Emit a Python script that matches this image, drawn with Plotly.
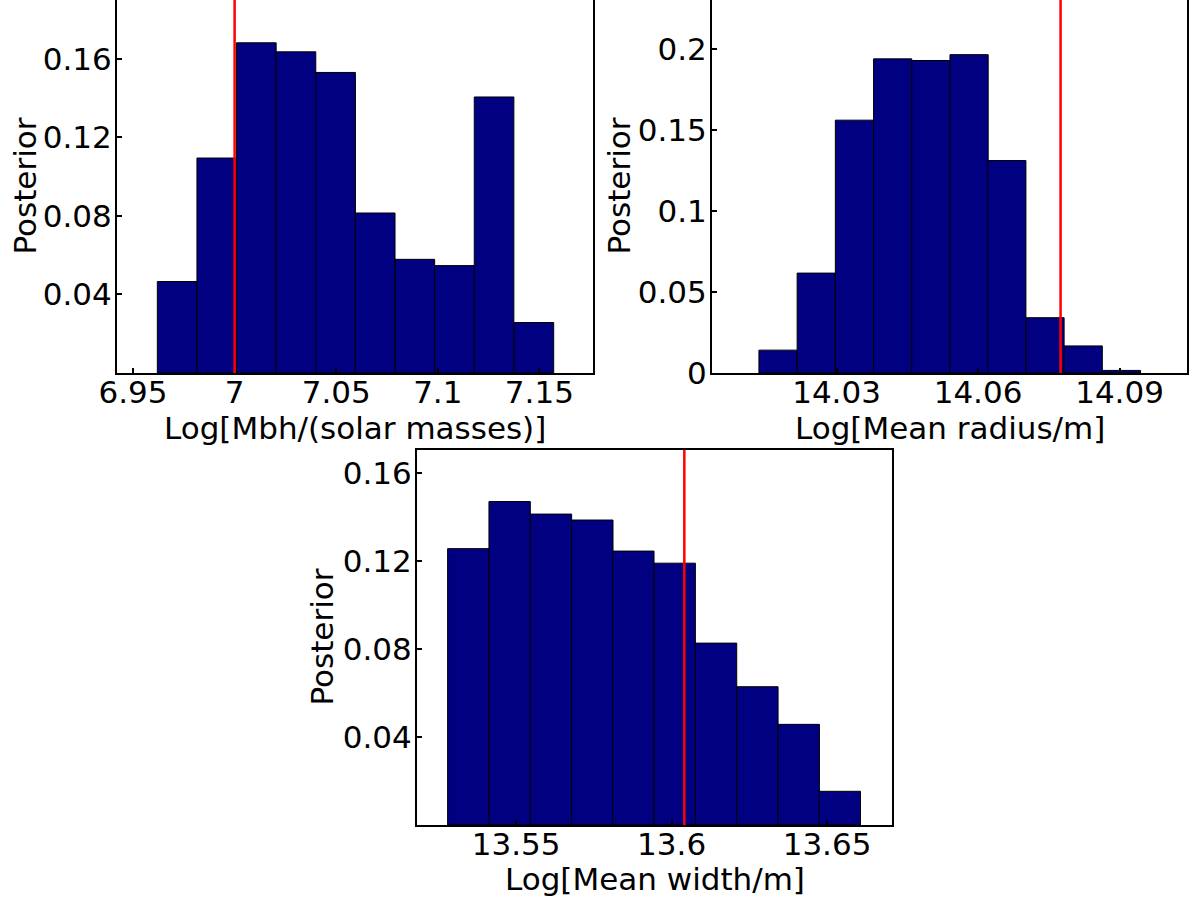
import plotly.graph_objects as go

# ---------------- data ----------------
mbh_centers = [6.9717, 6.9912, 7.0107, 7.0302, 7.0497, 7.0692, 7.0887, 7.1082, 7.1277, 7.1473]
mbh_post = [0.0466, 0.1095, 0.1682, 0.1636, 0.1531, 0.0815, 0.0579, 0.0547, 0.1406, 0.0257]
mbh_true = 7.0
mbh_ticks = [6.95, 7.0, 7.05, 7.1, 7.15]
mbh_ticklabels = ["6.95", "7", "7.05", "7.1", "7.15"]

rad_centers = [14.0176, 14.0257, 14.0338, 14.0419, 14.0500, 14.0581, 14.0661, 14.0742, 14.0823, 14.0904]
rad_post = [0.0141, 0.0616, 0.1559, 0.1937, 0.1927, 0.1963, 0.1310, 0.0341, 0.0167, 0.0016]
rad_true = 14.0775
rad_ticks = [14.03, 14.06, 14.09]
rad_ticklabels = ["14.03", "14.06", "14.09"]

wid_centers = [13.5346, 13.5479, 13.5612, 13.5745, 13.5877, 13.6010, 13.6143, 13.6276, 13.6409, 13.6541]
wid_post = [0.1255, 0.1469, 0.1412, 0.1385, 0.1244, 0.1189, 0.0826, 0.0628, 0.0457, 0.0153]
wid_true = 13.6041
wid_ticks = [13.55, 13.6, 13.65]
wid_ticklabels = ["13.55", "13.6", "13.65"]

post_ticks_a = [0.04, 0.08, 0.12, 0.16]
post_ticks_b = [0, 0.05, 0.1, 0.15, 0.2]
post_ticklabels_b = ["0", "0.05", "0.1", "0.15", "0.2"]

x_titles = ["Log[Mbh/(solar masses)]", "Log[Mean radius/m]", "Log[Mean width/m]"]
y_title = "Posterior"

# ---------------- style ----------------
W, H = 1196, 902
FONT = "DejaVu Sans"
FS = 31
BAR_COLOR = "#000080"

panels = [
    dict(c=mbh_centers, v=mbh_post, t=mbh_true, w=mbh_centers[1] - mbh_centers[0],
         xr=[6.9421, 7.1764], yr=[0, 0.19], xt=mbh_ticks, xtl=mbh_ticklabels,
         yt=post_ticks_a, ytl=["0.04", "0.08", "0.12", "0.16"],
         px=(117, 593), py=(0, 373), xtitle_y=428, ytitle_x=24),
    dict(c=rad_centers, v=rad_post, t=rad_true, w=rad_centers[1] - rad_centers[0],
         xr=[14.0036, 14.1043], yr=[0, 0.23], xt=rad_ticks, xtl=rad_ticklabels,
         yt=post_ticks_b, ytl=post_ticklabels_b,
         px=(712, 1187), py=(0, 373), xtitle_y=428, ytitle_x=618),
    dict(c=wid_centers, v=wid_post, t=wid_true, w=wid_centers[1] - wid_centers[0],
         xr=[13.5181, 13.6709], yr=[0, 0.1703], xt=wid_ticks, xtl=wid_ticklabels,
         yt=post_ticks_a, ytl=["0.04", "0.08", "0.12", "0.16"],
         px=(417, 892), py=(450, 825), xtitle_y=879, ytitle_x=321),
]

fig = go.Figure()
layout = dict(
    width=W, height=H,
    margin=dict(l=0, r=0, t=0, b=0, autoexpand=False),
    paper_bgcolor="white", plot_bgcolor="white",
    showlegend=False,
    font=dict(family=FONT, size=FS, color="black"),
    shapes=[], annotations=[],
)

for i, p in enumerate(panels):
    n = "" if i == 0 else str(i + 1)
    fig.add_trace(go.Bar(
        x=p["c"], y=p["v"], width=p["w"],
        marker=dict(color=BAR_COLOR, line=dict(color="black", width=1)),
        xaxis="x" + n, yaxis="y" + n, hoverinfo="x+y",
    ))
    layout["shapes"].append(dict(
        type="line", xref="x" + n, yref="y" + n + " domain",
        x0=p["t"], x1=p["t"], y0=0, y1=1,
        line=dict(color="#ff0000", width=2.5), layer="above",
    ))
    common = dict(showline=True, mirror=True, linecolor="black", linewidth=2,
                  ticks="inside", ticklen=5, tickwidth=1.5, tickcolor="black",
                  showgrid=False, zeroline=False, automargin=False,
                  tickfont=dict(family=FONT, size=FS, color="black"))
    layout["xaxis" + n] = dict(
        common, domain=[p["px"][0] / W, p["px"][1] / W], range=p["xr"],
        anchor="y" + n, tickmode="array", tickvals=p["xt"], ticktext=p["xtl"],
        ticklabelstandoff=-9,
    )
    layout["yaxis" + n] = dict(
        common, domain=[1 - p["py"][1] / H, 1 - p["py"][0] / H], range=p["yr"],
        anchor="x" + n, tickmode="array", tickvals=p["yt"], ticktext=p["ytl"],
        ticklabelstandoff=-3,
    )
    # axis titles
    layout["annotations"].append(dict(
        text=x_titles[i], xref="paper", yref="paper",
        x=(p["px"][0] + p["px"][1]) / 2 / W, y=1 - p["xtitle_y"] / H,
        xanchor="center", yanchor="middle", showarrow=False,
        font=dict(family=FONT, size=FS, color="black"),
    ))
    layout["annotations"].append(dict(
        text=y_title, xref="paper", yref="paper", textangle=-90,
        x=p["ytitle_x"] / W, y=1 - (p["py"][0] + p["py"][1]) / 2 / H,
        xanchor="center", yanchor="middle", showarrow=False,
        font=dict(family=FONT, size=FS, color="black"),
    ))

fig.update_layout(**layout)
fig.write_html("out.html")
